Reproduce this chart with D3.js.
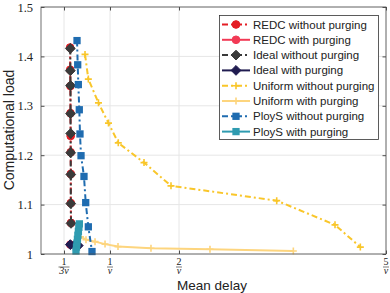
<!DOCTYPE html>
<html><head><meta charset="utf-8">
<script src="https://cdn.jsdelivr.net/npm/d3@7"></script>
<style>body{margin:0;background:#fff}svg{display:block}</style>
</head><body><svg id="c" width="390" height="293"></svg>
<script>
// ---- data (x in units of 1/v, y computational load) ----
const redcWithoutX = [0.422,0.423,0.426,0.427,0.430,0.430,0.432,0.432,0.435];
const redcWithoutY = [1.418,1.373,1.340,1.285,1.239,1.206,1.162,1.103,1.063];
const redcWithX = [0.425,0.49];
const redcWithY = [1.019,1.018];
const idealWithoutX = [0.425,0.425,0.428,0.428,0.430,0.430,0.432,0.432,0.435];
const idealWithoutY = [1.416,1.371,1.341,1.284,1.244,1.205,1.161,1.102,1.062];
const idealWithX = [0.425,0.49,0.54];
const idealWithY = [1.019,1.018,1.017];
const uniformWithoutX = [0.638,0.686,0.833,0.978,1.120,1.493,1.884,3.416,4.261,4.628];
const uniformWithoutY = [1.404,1.354,1.306,1.265,1.225,1.185,1.138,1.108,1.059,1.014];
const uniformWithX = [0.572,0.652,0.783,0.928,1.116,1.594,2.449,3.657];
const uniformWithY = [1.035,1.029,1.025,1.020,1.015,1.0115,1.0095,1.006];
const ploysWithoutX = [0.522,0.532,0.541,0.555,0.565,0.580,0.623,0.648,0.686,0.739];
const ploysWithoutY = [1.432,1.383,1.343,1.292,1.243,1.199,1.157,1.104,1.055,1.005];
const ploysWithX = [0.507,0.514,0.521,0.528,0.535,0.542,0.549,0.556];
const ploysWithY = [1.006,1.014,1.022,1.030,1.038,1.046,1.054,1.061];

const yTicks = [1,1.1,1.2,1.3,1.4,1.5];
const xTicks = [1/3,1,2,5];
const xTickNum = ["1","1","2","5"];
const xTickDen = ["3v","v","v","v"];
const seriesNames = ["REDC without purging","REDC with purging","Ideal without purging","Ideal with purging",
  "Uniform without purging","Uniform with purging","PloyS without purging","PloyS with purging"];
const seriesColors = ["#e41d24","#f23a55","#3a3a3a","#201c50","#f9c62a","#fdd57e","#1f6cb0","#2f9bb0"];
const seriesMarkers = ["circle","circle","diamond","diamond","plus","plus","square","square"];
const seriesDashed = [true,false,true,false,true,false,true,false];

const seriesData = [
  [redcWithoutX,redcWithoutY],[redcWithX,redcWithY],[idealWithoutX,idealWithoutY],[idealWithX,idealWithY],
  [uniformWithoutX,uniformWithoutY],[uniformWithX,uniformWithY],[ploysWithoutX,ploysWithoutY],[ploysWithX,ploysWithY]
];

const svg = d3.select("#c");
const L=41, R=386, T=7, B=254;
const x = d3.scaleLinear().domain([0,5]).range([L,R]);
const y = d3.scaleLinear().domain([1,1.5]).range([B,T]);
const dash = "6,3,2,3";

// grid
const g = svg.append("g");
g.selectAll(".gx").data(xTicks).enter().append("line")
  .attr("x1",d=>x(d)).attr("x2",d=>x(d)).attr("y1",T).attr("y2",B)
  .attr("stroke","#e6e6e6").attr("stroke-width",1);
g.selectAll(".gy").data(yTicks).enter().append("line")
  .attr("x1",L).attr("x2",R).attr("y1",d=>y(d)).attr("y2",d=>y(d))
  .attr("stroke","#e6e6e6").attr("stroke-width",1);

// series
function marker(sel, type, color, size){
  if(type==="circle"){
    sel.append("circle").attr("r",size*0.55).attr("fill",color).attr("stroke",color);
  } else if(type==="diamond"){
    const s=size*0.7;
    sel.append("path").attr("d",`M0,${-s}L${s},0L0,${s}L${-s},0Z`).attr("fill",color).attr("stroke",color);
  } else if(type==="square"){
    const s=size*0.52;
    sel.append("rect").attr("x",-s).attr("y",-s).attr("width",2*s).attr("height",2*s).attr("fill",color);
  } else if(type==="plus"){
    const s=size*0.5;
    sel.append("path").attr("d",`M${-s},0H${s}M0,${-s}V${s}`).attr("stroke",color).attr("stroke-width",1.6).attr("fill","none");
  }
}
const line = d3.line().x(d=>x(d[0])).y(d=>y(d[1]));
seriesData.forEach((sd,i)=>{
  const pts = sd[0].map((v,k)=>[v,sd[1][k]]);
  const sg = svg.append("g");
  sg.append("path").datum(pts).attr("d",line).attr("fill","none")
    .attr("stroke",seriesColors[i]).attr("stroke-width",2)
    .attr("stroke-dasharray",seriesDashed[i]?dash:null);
  pts.forEach(p=>{
    const m = sg.append("g").attr("transform",`translate(${x(p[0])},${y(p[1])})`);
    marker(m, seriesMarkers[i], seriesColors[i], 7);
  });
});

// box + ticks
const axc="#4d4d4d";
svg.append("rect").attr("x",L).attr("y",T).attr("width",R-L).attr("height",B-T)
  .attr("fill","none").attr("stroke",axc).attr("stroke-width",0.8);
const axB = d3.axisBottom(x).tickValues(xTicks).tickSize(-3.5).tickFormat("");
svg.append("g").attr("transform",`translate(0,${B})`).call(axB)
  .call(s=>{s.select(".domain").remove();s.selectAll("line").attr("stroke",axc);});
const axT = d3.axisTop(x).tickValues(xTicks).tickSize(-3.5).tickFormat("");
svg.append("g").attr("transform",`translate(0,${T})`).call(axT)
  .call(s=>{s.select(".domain").remove();s.selectAll("line").attr("stroke",axc);});
const axLft = d3.axisLeft(y).tickValues(yTicks).tickSize(-3.5).tickPadding(8)
  .tickFormat(d=>d===1?"1":d.toFixed(1));
svg.append("g").attr("transform",`translate(${L},0)`).call(axLft)
  .call(s=>{s.select(".domain").remove();s.selectAll("line").attr("stroke",axc);
    s.selectAll("text").attr("font-family","'Liberation Serif', serif").attr("font-size",12.5).attr("fill","#222");});
const axRt = d3.axisRight(y).tickValues(yTicks).tickSize(-3.5).tickFormat("");
svg.append("g").attr("transform",`translate(${R},0)`).call(axRt)
  .call(s=>{s.select(".domain").remove();s.selectAll("line").attr("stroke",axc);});

// fraction x tick labels
xTicks.forEach((t,i)=>{
  const cx = x(t);
  svg.append("text").attr("x",cx).attr("y",264.5).attr("text-anchor","middle")
    .attr("font-family","'Liberation Serif', serif").attr("font-size",10).attr("fill","#222").text(xTickNum[i]);
  const w = xTickDen[i].length>1?11:6;
  svg.append("line").attr("x1",cx-w/2).attr("x2",cx+w/2).attr("y1",267).attr("y2",267)
    .attr("stroke","#222").attr("stroke-width",0.6);
  svg.append("text").attr("x",cx).attr("y",274.3).attr("text-anchor","middle")
    .attr("font-family","'Liberation Serif', serif").attr("font-style","italic").attr("font-size",10).attr("fill","#222").text(xTickDen[i]);
});

// axis labels
svg.append("text").attr("x",212).attr("y",290).attr("text-anchor","middle")
  .attr("font-family","'Liberation Sans', Arial, sans-serif").attr("font-size",13.5).attr("fill","#222").text("Mean delay");
svg.append("text").attr("transform","translate(13.5,130) rotate(-90)").attr("text-anchor","middle")
  .attr("font-family","'Liberation Sans', Arial, sans-serif").attr("font-size",14).attr("fill","#222").text("Computational load");

// legend
const lg = svg.append("g");
lg.append("rect").attr("x",219.5).attr("y",15.5).attr("width",159).attr("height",124)
  .attr("fill","#fff").attr("stroke","#333").attr("stroke-width",0.8);
seriesNames.forEach((n,i)=>{
  const yy = 24.5 + i*15.3;
  lg.append("line").attr("x1",222).attr("x2",250).attr("y1",yy).attr("y2",yy)
    .attr("stroke",seriesColors[i]).attr("stroke-width",2)
    .attr("stroke-dasharray",seriesDashed[i]?dash:null);
  const m = lg.append("g").attr("transform",`translate(236,${yy})`);
  marker(m, seriesMarkers[i], seriesColors[i], 7);
  lg.append("text").attr("x",253).attr("y",yy+4).attr("font-family","'Liberation Sans', Arial, sans-serif")
    .attr("font-size",11.5).attr("fill","#222").text(n);
});
</script></body></html>
